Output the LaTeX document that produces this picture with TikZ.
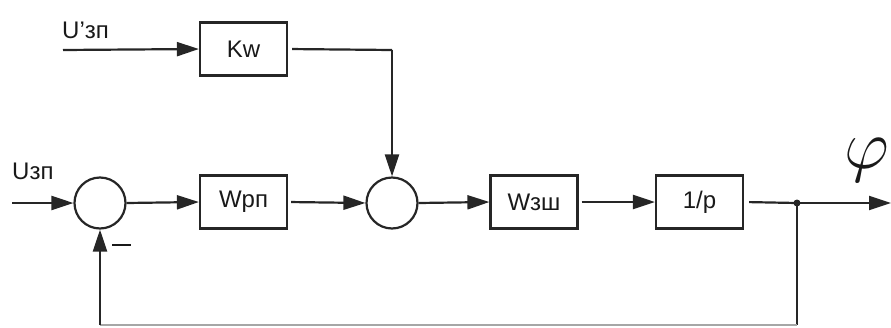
\documentclass[tikz,border=0pt]{standalone}
\usepackage{fontspec}
\usepackage{graphicx}
\setmainfont{Liberation Sans}
\usetikzlibrary{arrows.meta}
\begin{document}
\begin{tikzpicture}[x=1pt,y=-1pt,
  every node/.style={font=\fontsize{24}{26}\selectfont, text=black!90},
  blk/.style={draw=black!85, line width=2.2pt, minimum width=87pt, minimum height=53pt, inner sep=0pt},
  sumnode/.style={draw=black!85, line width=2.2pt, circle, minimum size=51pt, inner sep=0pt},
  sig/.style={draw=black!85, line width=2.2pt},
  arr/.style={sig, -{Triangle[length=22pt,width=14pt]}},
  lbl/.style={inner sep=0pt, anchor=south west}
]
\useasboundingbox (0,0) rectangle (891,327);
% blocks
\node[blk] (kw) at (243.5,49) {Kw};
\node[blk] (wrp) at (243.5,202) {Wрп};
\node[blk] (wzsh) at (534,202) {Wзш};
\node[blk] (inv) at (699.5,202) {1/p};
\node[sumnode] (s1) at (100,203) {};
\node[sumnode] (s2) at (392,203) {};
% coordinates
\coordinate (in2) at (63,50);
\coordinate (in1) at (12,203);
\coordinate (j) at (797,203);
\coordinate (out) at (891,203);
\coordinate (corner) at (392,50);
\coordinate (bj) at (797,325);
\coordinate (bs) at (100,325);
% labels
\node[lbl] (lu2) at (62,39) {U'зп};
\node[lbl] (lu1) at (12,180) {Uзп};
\node[lbl] (lmin) at (112,246) {\rule{19pt}{2pt}};
\node[inner sep=0pt, anchor=east] (lphi) at (889,160) {\scalebox{2.8}{$\varphi$}};
% connectors
\draw[arr] (in2) -- (kw.west);
\draw[sig, shorten <=4pt] (kw.east) -- (corner);
\draw[arr] (corner) -- (s2.north);
\draw[arr] (in1) -- (s1.west);
\draw[arr] (s1.east) -- (wrp.west);
\draw[arr, shorten <=3pt] (wrp.east) -- (s2.west);
\draw[arr] (s2.east) -- (wzsh.west);
\draw[arr, shorten <=3pt] (wzsh.east) -- (inv.west);
\draw[sig, shorten <=5pt] (inv.east) -- (j);
\draw[arr] (j) -- (out);
\fill[black!85] (j) circle (3.5pt);
\draw[sig] (j) -- (bj);
\draw[draw=black!35, line width=1.5pt] (bj) -- (bs);
\draw[arr] (bs) -- (s1.south);
\end{tikzpicture}
\end{document}
